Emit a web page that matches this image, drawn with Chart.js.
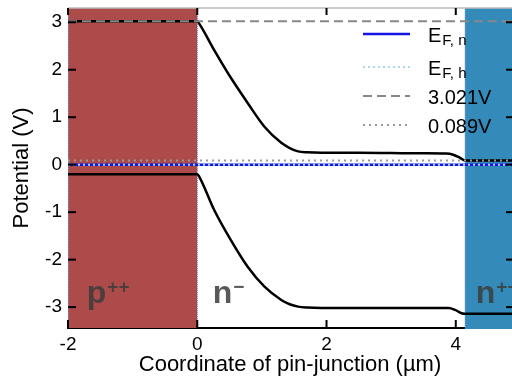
<!DOCTYPE html>
<html><head><meta charset="utf-8">
<script src="https://cdn.jsdelivr.net/npm/chart.js@4.4.1/dist/chart.umd.min.js"></script>
<style>html,body{margin:0;padding:0;background:#fff;overflow:hidden}#wrap{width:512px;height:381px}</style>
</head><body><div id="wrap"><canvas id="c" width="512" height="381"></canvas></div>
<script>
// ---- data ----
const xUpper = [-2, 0, 0.03, 0.26, 0.52, 0.78, 1.04, 1.30, 1.43, 1.56, 1.70, 1.92, 2.5, 3.0, 3.5, 3.85, 3.96, 4.06, 4.14, 4.87];
const vUpper = [3.02, 3.02, 2.97, 2.42, 1.83, 1.30, 0.80, 0.46, 0.35, 0.28, 0.26, 0.25, 0.25, 0.245, 0.24, 0.235, 0.21, 0.15, 0.09, 0.09];
const xLower = [-2, 0, 0.03, 0.26, 0.52, 0.78, 1.04, 1.30, 1.43, 1.56, 1.70, 1.92, 2.5, 3.0, 3.5, 3.89, 3.99, 4.09, 4.14, 4.87];
const vLower = [-0.20, -0.20, -0.25, -0.95, -1.59, -2.15, -2.57, -2.85, -2.94, -2.99, -3.01, -3.02, -3.02, -3.02, -3.02, -3.02, -3.06, -3.13, -3.14, -3.14];
const fermiN = 0;
const fermiH = 0;
const refHigh = 3.021;
const refLow = 0.089;
const xRange = [-2, 4.87];
const yRange = [-3.44, 3.3];
const regionP = [-2, 0];
const regionN = [4.14, 4.87];
const xTicks = [-2, 0, 2, 4];
const yTicks = [-3, -2, -1, 0, 1, 2, 3];
const legendLabels = [['E', 'F, n'], ['E', 'F, h'], ['3.021V', ''], ['0.089V', '']];
const regionLabels = [['p', '++', -1.71], ['n', '\u2212', 0.24], ['n', '++', 4.31]];
const regionLabelY = -2.91;

const FAM = '"Liberation Sans", Arial, Helvetica, sans-serif';
const pts = (xs, vs) => xs.map((x, i) => ({x: x, y: vs[i]}));
const flat = v => [{x: xRange[0], y: v}, {x: xRange[1], y: v}];

const styles = [
  {color: '#1414e6', width: 2.5, dash: []},
  {color: '#a8d8ea', width: 2, dash: [2, 3]},
  {color: '#888888', width: 2, dash: [9, 5]},
  {color: '#999999', width: 2, dash: [2, 4]}
];

const regionsPlugin = {
  id: 'regions',
  beforeDatasetsDraw(chart) {
    const {ctx, chartArea: a, scales: {x}} = chart;
    ctx.save();
    ctx.fillStyle = '#ad4a4a';
    const p0 = x.getPixelForValue(regionP[0]), p1 = x.getPixelForValue(regionP[1]);
    ctx.fillRect(p0, a.top, p1 - p0, a.bottom - a.top);
    ctx.fillStyle = '#348ab9';
    const n0 = x.getPixelForValue(regionN[0]), n1 = x.getPixelForValue(regionN[1]);
    ctx.fillRect(n0, a.top, n1 - n0 + 2, a.bottom - a.top + 1);
    ctx.strokeStyle = 'rgba(110,150,230,0.9)';
    ctx.lineWidth = 1;
    ctx.setLineDash([1, 1]);
    [regionP[0], regionP[1], regionN[0]].forEach(v => {
      const px = Math.round(x.getPixelForValue(v)) + 0.5;
      ctx.beginPath(); ctx.moveTo(px, a.top); ctx.lineTo(px, a.bottom); ctx.stroke();
    });
    ctx.setLineDash([]);
    ctx.strokeStyle = '#bbbbbb';
    ctx.lineWidth = 1.5;
    ctx.beginPath(); ctx.moveTo(a.left, a.top); ctx.lineTo(a.right, a.top); ctx.stroke();
    ctx.restore();
  },
  afterDatasetsDraw(chart) {
    const {ctx, chartArea: a, scales: {x, y}} = chart;
    ctx.save();
    ctx.strokeStyle = '#000';
    ctx.lineWidth = 2;
    const L = 8;
    xTicks.forEach(v => {
      const px = x.getPixelForValue(v);
      ctx.beginPath(); ctx.moveTo(px, a.bottom); ctx.lineTo(px, a.bottom - L); ctx.stroke();
      ctx.beginPath(); ctx.moveTo(px, a.top); ctx.lineTo(px, a.top + L - 1); ctx.stroke();
    });
    yTicks.forEach(v => {
      const py = y.getPixelForValue(v);
      ctx.beginPath(); ctx.moveTo(a.left, py); ctx.lineTo(a.left + L, py); ctx.stroke();
      ctx.beginPath(); ctx.moveTo(a.right, py); ctx.lineTo(a.right - L + 2, py); ctx.stroke();
    });
    ctx.fillStyle = 'rgba(60,60,60,0.85)';
    ctx.textBaseline = 'alphabetic';
    ctx.textAlign = 'left';
    const by = y.getPixelForValue(regionLabelY);
    regionLabels.forEach(([base, sup, xv]) => {
      const px = x.getPixelForValue(xv);
      ctx.font = 'bold 32px ' + FAM;
      ctx.fillText(base, px, by);
      const w = ctx.measureText(base).width;
      ctx.font = 'bold 19px ' + FAM;
      ctx.fillText(sup, px + w + 1, by - 10);
    });
    const lx0 = a.right - 149, lx1 = a.right - 102, tx = a.right - 84;
    const rows = [a.top + 26, a.top + 59, a.top + 88, a.top + 117];
    legendLabels.forEach((lab, i) => {
      const s = styles[i];
      ctx.strokeStyle = s.color; ctx.lineWidth = s.width; ctx.setLineDash(s.dash);
      ctx.beginPath(); ctx.moveTo(lx0, rows[i]); ctx.lineTo(lx1, rows[i]); ctx.stroke();
      ctx.setLineDash([]);
      ctx.fillStyle = '#000';
      ctx.font = '20px ' + FAM;
      ctx.fillText(lab[0], tx, rows[i] + 7.5);
      if (lab[1]) {
        const w = ctx.measureText(lab[0]).width;
        ctx.font = '15px ' + FAM;
        ctx.fillText(lab[1], tx + w + 1, rows[i] + 10.5);
      }
    });
    ctx.restore();
  }
};

const lineDs = (data, s, extra) => Object.assign({
  data: data, borderColor: s.color, borderWidth: s.width, borderDash: s.dash,
  pointRadius: 0, fill: false, tension: 0
}, extra || {});

new Chart(document.getElementById('c'), {
  type: 'line',
  data: {
    datasets: [
      lineDs(flat(refLow), styles[3]),
      lineDs(flat(fermiH), styles[1]),
      lineDs(flat(fermiN), styles[0]),
      lineDs(flat(refHigh), styles[2]),
      lineDs(pts(xUpper, vUpper), {color: '#000', width: 2.5, dash: []}, {cubicInterpolationMode: 'monotone'}),
      lineDs(pts(xLower, vLower), {color: '#000', width: 2.5, dash: []}, {cubicInterpolationMode: 'monotone'})
    ]
  },
  options: {
    responsive: false, animation: false, devicePixelRatio: 1,
    layout: {padding: {top: 8, right: 0, left: 0, bottom: 0}},
    plugins: {legend: {display: false}, tooltip: {enabled: false}},
    scales: {
      x: {
        type: 'linear', min: xRange[0], max: xRange[1],
        afterFit(s) { s.height = 53; s.paddingLeft = 0; s.paddingRight = 0; },
        grid: {display: false, drawTicks: false},
        border: {display: true, color: '#000', width: 2},
        ticks: {stepSize: 2, includeBounds: false, padding: 5, color: '#000', maxRotation: 0,
                font: {size: 19, family: FAM}},
        title: {display: true, text: 'Coordinate of pin-junction (\u00b5m)', color: '#000',
                font: {size: 22, family: FAM}, padding: {top: 0, bottom: 3}}
      },
      y: {
        type: 'linear', min: yRange[0], max: yRange[1],
        afterFit(s) { s.width = 68; s.paddingTop = 0; s.paddingBottom = 0; },
        grid: {display: false, drawTicks: false},
        border: {display: false},
        ticks: {stepSize: 1, includeBounds: false, padding: 6, color: '#000',
                font: {size: 19, family: FAM}},
        title: {display: true, text: 'Potential (V)', color: '#000',
                font: {size: 22, family: FAM}, padding: {top: 9, bottom: 0}}
      }
    }
  },
  plugins: [regionsPlugin]
});
</script></body></html>
